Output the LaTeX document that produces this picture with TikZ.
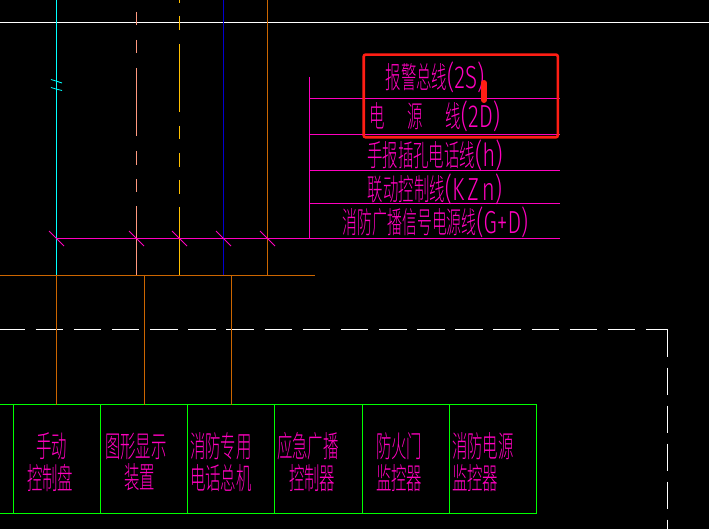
\documentclass[tikz,border=0pt]{standalone}
\usepackage{fontspec}
\usetikzlibrary{positioning}
\newfontfamily\cadfont[FakeStretch=0.515]{Noto Sans CJK SC Light}
\newfontfamily\cadlatin[FakeStretch=0.7, UprightFont={* Light}]{Fira Sans}
\definecolor{cadPink}{RGB}{255, 0, 191}
\definecolor{cadCyan}{RGB}{0, 255, 255}
\definecolor{cadGreen}{RGB}{0, 255, 0}
\definecolor{cadOrange}{RGB}{204, 102, 0}
\definecolor{cadSalmon}{RGB}{255, 153, 127}
\definecolor{cadYellow}{RGB}{255, 191, 0}
\definecolor{cadBlue}{RGB}{0, 0, 210}
\definecolor{cadRed}{RGB}{255, 30, 20}
\tikzset{
    wire/.style={draw=cadPink, line width=1bp},
    tick/.style={draw=cadPink, line width=0.8bp},
    riser/.style={line width=1bp},
    tag/.style={text=cadPink, inner sep=0pt, font=\cadfont\fontsize{30}{32}\selectfont},
    panel/.style={draw=cadGreen, line width=1bp, outer sep=0pt, minimum width=87bp, minimum height=109bp},
    paneltag/.style={tag, anchor=west, align=left},
    feed/.style={draw=cadOrange, line width=1bp},
    border/.style={draw=white, line width=1bp}
}
\def\ltn#1{{\cadlatin\fontsize{32}{32}\selectfont #1}}
\begin{document}
\begin{tikzpicture}[x=1bp, y=-1bp]
        % Black drawing area
        \fill[black] (0,0) rectangle (709,529);
        \useasboundingbox (0,0) rectangle (709,529);

        % Top edge
        \draw[border] (0,22.5) -- (709,22.5);

        % Risers
        \draw[riser, cadCyan] (56.5,0) -- (56.5,275);
        \draw[cadCyan, line width=0.8bp] (51,79.5) -- (56,81) -- (62,83);
        \draw[cadCyan, line width=0.8bp] (51,87.5) -- (56,89) -- (62,90.5);
        \draw[riser, cadSalmon] (136.5,12) -- (136.5,25) (136.5,40) -- (136.5,53)
            (136.5,68) -- (136.5,136) (136.5,151) -- (136.5,165) (136.5,179) -- (136.5,192)
            (136.5,206) -- (136.5,275);
        \draw[riser, cadYellow] (179.5,0) -- (179.5,3) (179.5,16) -- (179.5,30)
            (179.5,44) -- (179.5,112) (179.5,126) -- (179.5,139) (179.5,153) -- (179.5,167)
            (179.5,180) -- (179.5,194) (179.5,207) -- (179.5,275);
        \draw[riser, cadBlue] (223.5,0) -- (223.5,275);
        \draw[riser, cadOrange] (267.5,0) -- (267.5,275);

        % Bus and its ticks
        \draw[wire] (57,238.5) -- (560,238.5);
        \foreach \busx in {56.5,136.5,179.5,223.5,267.5}
            \draw[tick] (\busx-7.5,231) -- (\busx+7.5,246);

        % Legend
        \draw[wire] (309.5,77) -- (309.5,238.5);
        \foreach \rowy in {98.5,134.5,170.5,203.5}
            \draw[wire] (309.5,\rowy) -- (560,\rowy);
        \node[tag] (alarmLine) at (435,77) {报警总线\ltn{(2S)}};
        \node[tag] (powerLine) at (435,116) {电\hspace{22.5pt}源\hspace{22.5pt}线\ltn{(2D)}};
        \node[tag] (phoneLine) at (435,155) {手报插孔电话线\ltn{(h)}};
        \node[tag] (linkLine) at (435,189) {联动控制线\ltn{(K\kern3pt Z\kern3pt n)}};
        \node[tag, xscale=.965] (voiceLine) at (435.5,222) {消防广播信号电源线\ltn{(G+D)}};

        % Highlight
        \draw[draw=cadRed, line width=2.6bp, rounded corners=2pt] (363.7,54.6) rectangle (557.8,137.3);
        \draw[cadRed, line width=6bp, line cap=round] (484,83) -- (484,100);

        % Feeder bar
        \draw[feed] (0,275.5) -- (315,275.5);
        \coordinate (feedA) at (56.5,275.5);
        \coordinate (feedB) at (144,275.5);
        \coordinate (feedC) at (231,275.5);

        % Dashed boundary
        \draw[border, dash pattern=on 27.5bp off 10.65bp, dash phase=2.5bp] (0,329.5) -- (667.5,329.5);
        \draw[border, dash pattern=on 27.5bp off 10.5bp] (667.5,329.5) -- (667.5,529);

        % Panels
        \draw[draw=cadGreen, line width=1bp] (0,404.5) -- (13.5,404.5) (0,513.5) -- (13.5,513.5);
        \node[panel] (manualPanel) at (57,459) {};
        \node[panel, right=0pt of manualPanel] (graphicPanel) {};
        \node[panel, right=0pt of graphicPanel] (phonePanel) {};
        \node[panel, minimum width=88bp, right=0pt of phonePanel] (voicePanel) {};
        \node[panel, right=0pt of voicePanel] (doorPanel) {};
        \node[panel, right=0pt of doorPanel] (powerPanel) {};

        \node[paneltag] (manualTag) at (27,462) {\hspace*{9pt}手动\\控制盘};
        \node[paneltag] (graphicTag) at (105,462) {图形显示\\\hspace*{19pt}装置};
        \node[paneltag] (phoneTag) at (190,462) {消防专用\\电话总机};
        \node[paneltag] (voiceTag) at (277,462) {应急广播\\\hspace*{12pt}控制器};
        \node[paneltag] (doorTag) at (376,462) {防火门\\监控器};
        \node[paneltag] (powerTag) at (452,462) {消防电源\\监控器};

        \draw[feed] (feedA) -- (feedA |- manualPanel.north);
        \draw[feed] (feedB) -- (feedB |- graphicPanel.north);
        \draw[feed] (feedC) -- (feedC |- phonePanel.north);
    \end{tikzpicture}
\end{document}
